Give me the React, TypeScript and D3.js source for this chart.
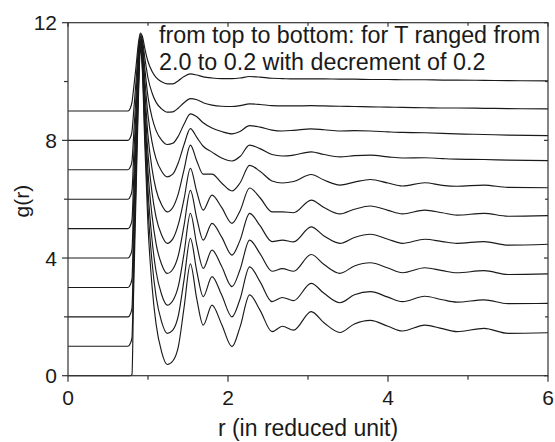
import React from 'react';
import * as d3 from 'd3';

// Temperatures (bottom to top) and vertical offsets used in the figure
const temperatures = [0.2, 0.4, 0.6, 0.8, 1.0, 1.2, 1.4, 1.6, 1.8, 2.0];
const offsets = [0, 1, 2, 3, 4, 5, 6, 7, 8, 9];

// Shared r knots (reduced units)
const rKnots = [0, 0.75, 0.78, 0.80, 0.82, 0.85, 0.88, 0.905, 0.93, 0.96, 1.0, 1.05, 1.1, 1.17, 1.24, 1.31, 1.38, 1.45, 1.53, 1.61, 1.69, 1.8, 1.92, 2.05, 2.15, 2.27, 2.4, 2.55, 2.68, 2.82, 3.04, 3.2, 3.4, 3.58, 3.78, 4.0, 4.18, 4.46, 4.68, 4.86, 5.2, 5.5, 6.0];

// g(r) values (without offset)
const gT02 = [0, 0, 0, 0.05, 2.8, 6.1, 9.4, 11.1, 10.35, 7.88, 5.1, 3.06, 1.77, 0.81, 0.38, 0.5, 1.0, 2.3, 3.8, 2.6, 1.72, 2.4, 1.75, 0.99, 1.65, 2.75, 2.23, 1.5, 1.68, 1.55, 2.18, 1.8, 1.47, 1.76, 1.88, 1.68, 1.52, 1.72, 1.6, 1.5, 1.61, 1.44, 1.46];
const gT04 = [0, 0, 0.1, 0.3, 2.55, 5.6, 8.7, 10.2, 9.52, 7.27, 4.73, 2.88, 1.71, 0.83, 0.44, 0.55, 1.05, 2.25, 3.67, 2.55, 1.69, 2.37, 1.75, 1.0, 1.6, 2.7, 2.2, 1.52, 1.66, 1.55, 2.14, 1.8, 1.48, 1.75, 1.86, 1.67, 1.52, 1.7, 1.58, 1.5, 1.58, 1.45, 1.46];
const gT06 = [0, 0, 0.1, 0.3, 2.3, 5.1, 7.9, 9.3, 8.68, 6.63, 4.32, 2.63, 1.56, 0.76, 0.4, 0.55, 1.05, 2.15, 3.52, 2.45, 1.65, 2.27, 1.72, 1.03, 1.6, 2.61, 2.15, 1.55, 1.64, 1.55, 2.12, 1.78, 1.48, 1.73, 1.84, 1.66, 1.5, 1.67, 1.57, 1.5, 1.57, 1.44, 1.46];
const gT08 = [0, 0, 0.1, 0.3, 2.1, 4.6, 7.1, 8.35, 7.8, 5.99, 3.94, 2.45, 1.5, 0.79, 0.48, 0.62, 1.1, 2.1, 3.3, 2.35, 1.61, 2.18, 1.72, 1.1, 1.6, 2.52, 2.1, 1.56, 1.61, 1.55, 2.06, 1.75, 1.5, 1.7, 1.81, 1.64, 1.5, 1.64, 1.56, 1.5, 1.56, 1.44, 1.47];
const gT10 = [0, 0, 0.1, 0.3, 1.85, 4.1, 6.3, 7.4, 6.92, 5.33, 3.54, 2.23, 1.4, 0.78, 0.5, 0.65, 1.15, 2.0, 3.05, 2.25, 1.63, 2.14, 1.72, 1.18, 1.6, 2.38, 2.05, 1.57, 1.57, 1.54, 1.97, 1.72, 1.5, 1.66, 1.77, 1.62, 1.5, 1.63, 1.54, 1.46, 1.52, 1.42, 1.44];
const gT12 = [0, 0, 0.1, 0.3, 1.6, 3.55, 5.5, 6.45, 6.04, 4.69, 3.16, 2.04, 1.33, 0.81, 0.57, 0.72, 1.2, 2.0, 2.84, 2.3, 1.85, 1.85, 1.55, 1.28, 1.55, 2.15, 1.95, 1.62, 1.55, 1.6, 1.84, 1.65, 1.48, 1.58, 1.67, 1.55, 1.45, 1.56, 1.47, 1.44, 1.48, 1.4, 1.39];
const gT14 = [0, 0, 0.1, 0.3, 1.4, 3.0, 4.7, 5.5, 5.17, 4.08, 2.85, 1.95, 1.38, 0.95, 0.76, 0.85, 1.25, 1.85, 2.4, 2.1, 1.8, 1.6, 1.4, 1.3, 1.45, 1.84, 1.72, 1.52, 1.47, 1.5, 1.61, 1.52, 1.44, 1.48, 1.5, 1.44, 1.4, 1.41, 1.38, 1.36, 1.35, 1.33, 1.31];
const gT16 = [0, 0, 0.1, 0.3, 1.15, 2.5, 3.9, 4.55, 4.29, 3.44, 2.48, 1.78, 1.34, 1.01, 0.86, 0.9, 1.15, 1.55, 1.9, 1.8, 1.6, 1.42, 1.3, 1.22, 1.3, 1.5, 1.45, 1.35, 1.32, 1.34, 1.39, 1.36, 1.32, 1.33, 1.32, 1.29, 1.27, 1.26, 1.24, 1.22, 1.2, 1.18, 1.16];
const gT18 = [0, 0, 0.1, 0.3, 0.95, 2.0, 3.1, 3.6, 3.42, 2.81, 2.12, 1.62, 1.3, 1.07, 0.96, 0.97, 1.1, 1.28, 1.42, 1.38, 1.28, 1.2, 1.16, 1.15, 1.18, 1.24, 1.22, 1.18, 1.17, 1.17, 1.18, 1.17, 1.16, 1.15, 1.14, 1.13, 1.12, 1.11, 1.1, 1.1, 1.09, 1.08, 1.07];
const gT20 = [0, 0, 0.1, 0.3, 0.75, 1.5, 2.3, 2.65, 2.53, 2.13, 1.68, 1.35, 1.14, 0.99, 0.92, 0.92, 1.03, 1.17, 1.26, 1.22, 1.16, 1.12, 1.1, 1.1, 1.12, 1.17, 1.15, 1.11, 1.1, 1.09, 1.09, 1.09, 1.08, 1.08, 1.07, 1.07, 1.06, 1.06, 1.05, 1.05, 1.04, 1.03, 1.02];

const series = [gT02, gT04, gT06, gT08, gT10, gT12, gT14, gT16, gT18, gT20];

const xMajor = [0, 2, 4, 6];
const xMinor = [1, 3, 5];
const yMajor = [0, 4, 8, 12];
const yMinor = [2, 6, 10];

const annotation = ['from top to bottom: for T ranged from', '2.0 to 0.2 with decrement of 0.2'];

const W = 555;
const H = 442;
const FONT = '"Liberation Sans", Arial, Helvetica, sans-serif';

export default function App() {
  const x = d3.scaleLinear().domain([0, 6]).range([68, 548]);
  const y = d3.scaleLinear().domain([0, 12]).range([375.7, 22.7]);
  const line = d3
    .line<number>()
    .x((_, i) => x(rKnots[i]))
    .y((d) => d)
    .curve(d3.curveMonotoneX);

  const axisColor = '#333';
  const x0 = x(0), x1 = x(6), y0 = y(0), y1 = y(12);

  return (
    <div style={{ position: 'absolute', left: 0, top: 0 }}>
      <svg width={W} height={H} viewBox={`0 0 ${W} ${H}`} style={{ display: 'block', background: '#fff' }}>
        <g fill="none" stroke="#1a1a1a" strokeWidth={1.15} strokeLinejoin="round">
          {series.map((vals, k) => (
            <path key={temperatures[k]} d={line(vals.map((g) => y(g + offsets[k]))) || ''} />
          ))}
        </g>
        {/* frame */}
        <rect x={x0} y={y1} width={x1 - x0} height={y0 - y1} fill="none" stroke={axisColor} strokeWidth={1.2} />
        {/* bottom / top ticks */}
        {xMajor.map((t) => (
          <g key={'xb' + t}>
            <line x1={x(t)} x2={x(t)} y1={y0} y2={y0 + 6} stroke={axisColor} strokeWidth={1.2} />
            <line x1={x(t)} x2={x(t)} y1={y1} y2={y1 + 4} stroke={axisColor} strokeWidth={1.2} />
            <text x={x(t)} y={y0 + 29.5} fontSize={21} fontFamily={FONT} textAnchor="middle" fill="#1a1a1a">{t}</text>
          </g>
        ))}
        {xMinor.map((t) => (
          <g key={'xm' + t}>
            <line x1={x(t)} x2={x(t)} y1={y0} y2={y0 + 4} stroke={axisColor} strokeWidth={1.2} />
            <line x1={x(t)} x2={x(t)} y1={y1} y2={y1 + 3} stroke={axisColor} strokeWidth={1.2} />
          </g>
        ))}
        {/* left / right ticks */}
        {yMajor.map((t) => (
          <g key={'yl' + t}>
            <line x1={x0 - 6} x2={x0} y1={y(t)} y2={y(t)} stroke={axisColor} strokeWidth={1.2} />
            <line x1={x1 - 4} x2={x1} y1={y(t)} y2={y(t)} stroke={axisColor} strokeWidth={1.2} />
            <text x={x0 - 11} y={y(t) + 7.5} fontSize={21} fontFamily={FONT} textAnchor="end" fill="#1a1a1a">{t}</text>
          </g>
        ))}
        {yMinor.map((t) => (
          <g key={'ym' + t}>
            <line x1={x0 - 4} x2={x0} y1={y(t)} y2={y(t)} stroke={axisColor} strokeWidth={1.2} />
            <line x1={x1 - 3} x2={x1} y1={y(t)} y2={y(t)} stroke={axisColor} strokeWidth={1.2} />
          </g>
        ))}
        {/* axis titles */}
        <text x={(x0 + x1) / 2} y={436} fontSize={23} fontFamily={FONT} textAnchor="middle" fill="#1a1a1a">r (in reduced unit)</text>
        <text transform={`translate(29, ${(y0 + y1) / 2 + 2}) rotate(-90)`} fontSize={21} fontFamily={FONT} textAnchor="middle" fill="#1a1a1a">g(r)</text>
        {/* annotation */}
        {annotation.map((s, i) => (
          <text key={i} x={159} y={43 + i * 27} fontSize={23.3} fontFamily={FONT} fill="#1a1a1a">{s}</text>
        ))}
      </svg>
    </div>
  );
}
